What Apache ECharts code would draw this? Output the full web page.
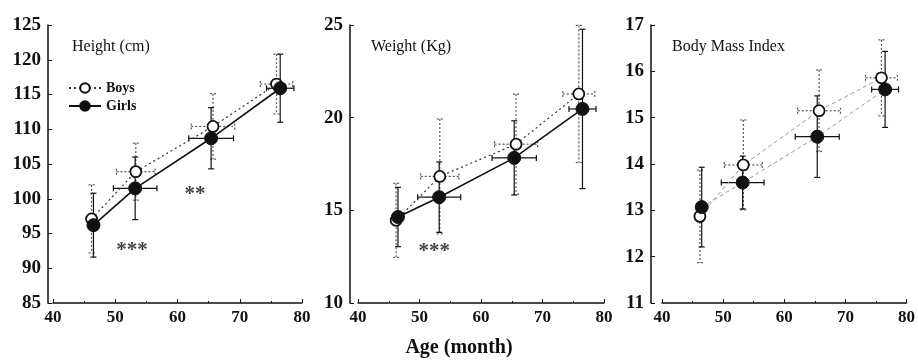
<!DOCTYPE html>
<html>
<head>
<meta charset="utf-8">
<script src="https://cdn.jsdelivr.net/npm/echarts@6/dist/echarts.min.js"></script>
<style>
  html, body { margin: 0; padding: 0; background: #fff; }
  #chart { width: 918px; height: 362px; }
</style>
</head>
<body>
<div id="chart"></div>
<script>
// mean age (month) and its SD for each group
var boysAge = [46.2, 53.3, 65.7, 75.9];
var boysAgeSd = [0.6, 3.1, 3.5, 2.6];
var girlsAge = [46.5, 53.2, 65.4, 76.5];
var girlsAgeSd = [0.5, 3.5, 3.6, 2.2];

var boysHeight = [97.1, 103.9, 110.4, 116.5];
var boysHeightSd = [4.9, 4.1, 4.7, 4.3];
var girlsHeight = [96.2, 101.5, 108.7, 115.9];
var girlsHeightSd = [4.6, 4.5, 4.4, 4.9];

var boysWeight = [14.46, 16.83, 18.57, 21.28];
var boysWeightSd = [2.0, 3.1, 2.7, 3.7];
var girlsWeight = [14.64, 15.71, 17.83, 20.47];
var girlsWeightSd = [1.6, 1.9, 2.0, 4.3];

var boysBmi = [12.87, 13.98, 15.15, 15.86];
var boysBmiSd = [1.0, 0.97, 0.88, 0.82];
var girlsBmi = [13.07, 13.60, 14.59, 15.61];
var girlsBmiSd = [0.86, 0.57, 0.88, 0.82];

var panelTitles = ["Height (cm)", "Weight (Kg)", "Body Mass Index"];
var yRanges = [[85, 125, 5], [10, 25, 5], [11, 17, 1]];
// significance marks: [panel, age, value, text]
var stars = [[0, 52.7, 92.6, "***"], [0, 62.8, 100.6, "**"], [1, 52.4, 12.8, "***"]];

var serif = "'Liberation Serif', 'DejaVu Serif', serif";

function pts(xs, ys) {
  return xs.map(function (x, i) { return [x, ys[i]]; });
}
function errPts(xs, ys, xsd, ysd) {
  return xs.map(function (x, i) { return [x, ys[i], xsd[i], ysd[i]]; });
}

function errRender(color, dash) {
  return function (params, api) {
    var x = api.value(0), y = api.value(1), ex = api.value(2), ey = api.value(3);
    var l = api.coord([x - ex, y]), r = api.coord([x + ex, y]);
    var t = api.coord([x, y + ey]), b = api.coord([x, y - ey]);
    var cap = 3;
    var style = { stroke: color, lineWidth: 1.2, lineDash: dash };
    var segs = [
      [l[0], l[1], r[0], r[1]],
      [t[0], t[1], b[0], b[1]],
      [l[0], l[1] - cap, l[0], l[1] + cap],
      [r[0], r[1] - cap, r[0], r[1] + cap],
      [t[0] - cap, t[1], t[0] + cap, t[1]],
      [b[0] - cap, b[1], b[0] + cap, b[1]]
    ];
    return {
      type: "group",
      children: segs.map(function (s) {
        return { type: "line", shape: { x1: s[0], y1: s[1], x2: s[2], y2: s[3] }, style: style };
      })
    };
  };
}

var grids = [
  { left: 53, top: 25, width: 249, height: 278 },
  { left: 358, top: 25, width: 246, height: 278 },
  { left: 662, top: 25, width: 245, height: 278 }
];
var yOffsets = [5, 8, 11];
var titleLeft = [67, 366, 667];

var xAxes = [], yAxes = [], series = [];
var panels = [
  [boysHeight, boysHeightSd, girlsHeight, girlsHeightSd],
  [boysWeight, boysWeightSd, girlsWeight, girlsWeightSd],
  [boysBmi, boysBmiSd, girlsBmi, girlsBmiSd]
];

panels.forEach(function (p, k) {
  xAxes.push({
    gridIndex: k, type: "value", min: 40, max: 80, interval: 10,
    axisLine: { lineStyle: { color: "#111", width: 1.5 } },
    axisTick: { inside: true, length: 4, lineStyle: { color: "#111" } },
    minorTick: { show: true, splitNumber: 2, length: 2, lineStyle: { color: "#111" } },
    splitLine: { show: false },
    axisLabel: { color: "#111", fontFamily: serif, fontWeight: "bold", fontSize: 17, margin: 6 }
  });
  yAxes.push({
    gridIndex: k, type: "value", min: yRanges[k][0], max: yRanges[k][1], interval: yRanges[k][2],
    offset: yOffsets[k],
    axisLine: { show: true, lineStyle: { color: "#111", width: 1.5 } },
    axisTick: { show: true, inside: true, length: 4, lineStyle: { color: "#111" } },
    splitLine: { show: false },
    axisLabel: { color: "#111", fontFamily: serif, fontWeight: "bold", fontSize: 19, margin: 7 }
  });

  var lineBoys = k === 2 ? { color: "#999", width: 1, type: [4, 3] } : { color: "#333", width: 1.2, type: [2, 3] };
  var lineGirls = k === 2 ? { color: "#999", width: 1, type: [4, 3] } : { color: "#111", width: 1.6 };

  series.push({
    name: "boysErr" + k, type: "custom", xAxisIndex: k, yAxisIndex: k, z: 1,
    renderItem: errRender("#555", [2, 2]),
    encode: { x: 0, y: 1 },
    data: errPts(boysAge, p[0], boysAgeSd, p[1])
  });
  series.push({
    name: "girlsErr" + k, type: "custom", xAxisIndex: k, yAxisIndex: k, z: 1,
    renderItem: errRender("#111", null),
    encode: { x: 0, y: 1 },
    data: errPts(girlsAge, p[2], girlsAgeSd, p[3])
  });
  series.push({
    name: "Boys", type: "line", xAxisIndex: k, yAxisIndex: k, z: 3,
    symbol: "circle", symbolSize: 11, showAllSymbol: true,
    itemStyle: { color: "#fff", borderColor: "#111", borderWidth: 1.8 },
    lineStyle: lineBoys,
    data: pts(boysAge, p[0])
  });
  series.push({
    name: "Girls", type: "line", xAxisIndex: k, yAxisIndex: k, z: 4,
    symbol: "circle", symbolSize: 13, showAllSymbol: true,
    itemStyle: { color: "#111", borderColor: "#111", borderWidth: 1 },
    lineStyle: lineGirls,
    data: pts(girlsAge, p[2])
  });
});

stars.forEach(function (s) {
  series.push({
    type: "scatter", xAxisIndex: s[0], yAxisIndex: s[0], symbolSize: 0, z: 5,
    silent: true,
    label: { show: true, position: "inside", formatter: s[3], color: "#111",
      fontFamily: serif, fontWeight: "bold", fontSize: 21 },
    data: [[s[1], s[2]]]
  });
});

var titles = panelTitles.map(function (t, k) {
  return {
    text: t, left: titleLeft[k], top: 34,
    textStyle: { fontFamily: serif, fontWeight: "normal", fontSize: 16, color: "#111" }
  };
});
titles.push({
  text: "Age (month)", left: "center", top: 333,
  textStyle: { fontFamily: serif, fontWeight: "bold", fontSize: 20, color: "#111" }
});

var option = {
  animation: false,
  backgroundColor: "#fff",
  title: titles,
  legend: {
    data: ["Boys", "Girls"], orient: "vertical", left: 63, top: 76,
    itemWidth: 32, itemHeight: 12, itemGap: 4,
    textStyle: { fontFamily: serif, fontWeight: "bold", fontSize: 14, color: "#111" }
  },
  grid: grids,
  xAxis: xAxes,
  yAxis: yAxes,
  series: series
};

var chart = echarts.init(document.getElementById("chart"));
chart.setOption(option);
</script>
</body>
</html>
